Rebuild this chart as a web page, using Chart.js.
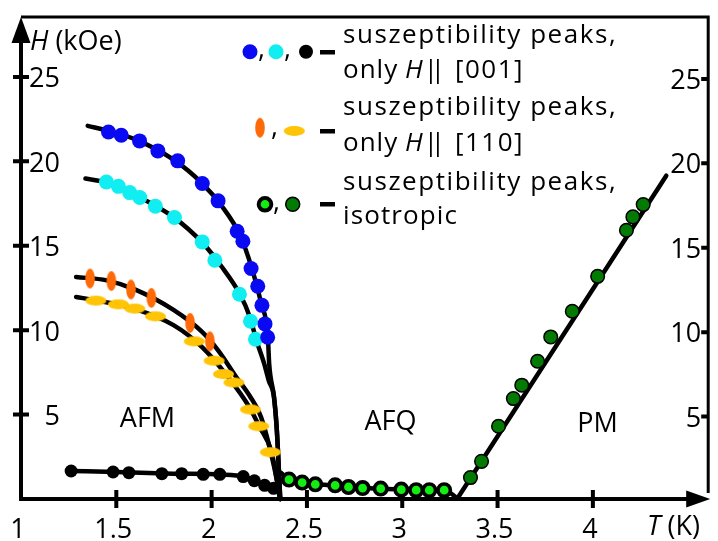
<!DOCTYPE html>
<html>
<head>
<meta charset="utf-8">
<script src="https://cdn.jsdelivr.net/npm/chart.js@4.4.1/dist/chart.umd.min.js"></script>
<style>
  html, body { margin: 0; padding: 0; background: #fff; }
  #wrap { width: 718px; height: 541px; }
</style>
</head>
<body>
<div id="wrap"><canvas id="c" width="718" height="541"></canvas></div>
<script>
// ---- measured susceptibility peaks (T in K, H in kOe) ----
// H || [001], upper branch (blue)
const blueT = [1.459, 1.526, 1.622, 1.718, 1.822, 1.951, 2.034, 2.134, 2.164, 2.207, 2.242, 2.264, 2.280, 2.294];
const blueH = [21.74, 21.55, 21.21, 20.62, 20.03, 18.69, 17.66, 15.86, 15.27, 13.65, 12.60, 11.47, 10.37, 9.58];
// H || [001], lower branch (cyan)
const cyanT = [1.448, 1.511, 1.570, 1.623, 1.705, 1.805, 1.951, 2.017, 2.146, 2.204, 2.230];
const cyanH = [18.78, 18.52, 18.15, 17.86, 17.34, 16.67, 15.23, 14.14, 12.13, 10.53, 9.46];
// H || [001], low-field (black)
const blackT = [1.263, 1.483, 1.566, 1.739, 1.843, 1.956, 2.043, 2.166, 2.224, 2.278, 2.325];
const blackH = [1.66, 1.60, 1.56, 1.50, 1.50, 1.46, 1.46, 1.33, 1.08, 0.81, 0.63];
// H || [110] (orange and yellow)
const orangeT = [1.362, 1.474, 1.577, 1.684, 1.887, 1.991];
const orangeH = [13.06, 12.91, 12.41, 11.91, 10.43, 9.34];
const yellowT = [1.393, 1.511, 1.597, 1.705, 1.909, 2.013, 2.062, 2.117, 2.204, 2.247, 2.308];
const yellowH = [11.75, 11.53, 11.28, 10.82, 9.34, 8.19, 7.40, 6.90, 5.30, 4.31, 2.77];
// isotropic (light green: AFQ boundary, dark green: PM boundary)
const afqT = [2.406, 2.475, 2.544, 2.648, 2.718, 2.792, 2.887, 2.995, 3.073, 3.142, 3.220];
const afqH = [1.15, 0.97, 0.87, 0.81, 0.71, 0.65, 0.62, 0.56, 0.52, 0.52, 0.52];
const pmT = [3.358, 3.416, 3.505, 3.583, 3.627, 3.710, 3.779, 3.892, 4.025, 4.176, 4.210, 4.264];
const pmH = [1.27, 2.23, 4.31, 5.95, 6.74, 8.16, 9.60, 11.12, 13.19, 15.92, 16.71, 17.44];

// ---- phase boundary guide lines ----
const blueLineT = [1.35, 1.46, 1.6, 1.8, 1.95, 2.05, 2.15, 2.21, 2.26, 2.295, 2.302, 2.328, 2.342, 2.36];
const blueLineH = [22.1, 21.8, 21.3, 20.1, 18.7, 17.4, 15.6, 13.7, 11.6, 9.6, 8.0, 6.0, 4.1, 0];
const cyanLineT = [1.338, 1.45, 1.6, 1.8, 1.95, 2.05, 2.15, 2.2, 2.235, 2.276, 2.30, 2.326, 2.342, 2.36];
const cyanLineH = [18.98, 18.75, 18.0, 16.7, 15.2, 13.8, 12.1, 10.8, 9.4, 8.0, 7.0, 6.1, 4.1, 0];
const orangeLineT = [1.289, 1.45, 1.6, 1.8, 1.95, 2.034, 2.129, 2.2, 2.259, 2.328, 2.36];
const orangeLineH = [13.15, 12.95, 12.4, 11.2, 9.9, 8.81, 7.23, 6.1, 4.86, 1.9, 0];
const yellowLineT = [1.289, 1.4, 1.6, 1.8, 1.95, 2.086, 2.2, 2.25, 2.315, 2.36];
const yellowLineH = [11.97, 11.75, 11.25, 10.3, 9.0, 7.23, 5.4, 4.3, 2.75, 0];
const blackLineT = [1.263, 1.5, 1.8, 2.05, 2.17, 2.23, 2.28, 2.345, 2.36];
const blackLineH = [1.66, 1.6, 1.5, 1.45, 1.32, 1.05, 0.8, 0.6, 0];
const afqLineT = [2.365, 2.406, 2.475, 2.55, 2.65, 2.8, 3.0, 3.15, 3.22, 3.29];
const afqLineH = [1.55, 1.15, 0.97, 0.87, 0.8, 0.65, 0.56, 0.52, 0.52, 0.05];
const pmLineT = [3.29, 4.385];
const pmLineH = [0.05, 19.15];

// ---- axes and annotation text ----
const xTicks = [1, 1.5, 2, 2.5, 3, 3.5, 4];
const xTickLabels = ['1', '1.5', '2', '2.5', '3', '3.5', '4'];
const yTicks = [5, 10, 15, 20, 25];
const yTickLabels = ['5', '10', '15', '20', '25'];
const phaseNames = ['AFM', 'AFQ', 'PM'];
const legendHead = 'suszeptibility peaks,';
const legendSub = [['only', 'H', '[001]'], ['only', 'H', '[110]'], ['isotropic']];

const FONT = '"Open Sans", "DejaVu Sans", sans-serif';
const C = {
  blue: '#0a0af2', cyan: '#10eef2', black: '#000000',
  orange: '#ff6a08', yellow: '#ffc405', lime: '#12ee12', green: '#037a03'
};

function pairs(ts, hs) { return ts.map((t, i) => ({ x: t, y: hs[i] })); }

function ellipseSprite(rx, ry, color) {
  const c = document.createElement('canvas');
  c.width = Math.ceil(rx * 2) + 2;
  c.height = Math.ceil(ry * 2) + 2;
  const g = c.getContext('2d');
  g.fillStyle = color;
  g.beginPath();
  g.ellipse(c.width / 2, c.height / 2, rx, ry, 0, 0, Math.PI * 2);
  g.fill();
  return c;
}
const orangeMark = ellipseSprite(4.8, 10, C.orange);
const yellowMark = ellipseSprite(10.5, 5, C.yellow);

function pointSet(data, opts) {
  return Object.assign({ data, showLine: false, order: 0, clip: false, borderWidth: 0 }, opts);
}
function lineSet(data) {
  return {
    data, showLine: true, pointRadius: 0, borderColor: '#000', borderWidth: 4.5,
    borderCapStyle: 'round', borderJoinStyle: 'round', cubicInterpolationMode: 'monotone',
    order: 1, clip: false
  };
}

function text(ctx, str, x, y, size, align, italic) {
  ctx.font = (italic ? 'italic ' : '') + size + 'px ' + FONT;
  ctx.textAlign = align || 'left';
  ctx.textBaseline = 'alphabetic';
  ctx.fillText(str, x, y);
  return ctx.measureText(str).width;
}
// left-aligned text with a little extra tracking between glyphs
function spaced(ctx, str, x, y, size, track) {
  ctx.font = size + 'px ' + FONT;
  ctx.textAlign = 'left';
  ctx.textBaseline = 'alphabetic';
  let xx = x;
  for (const ch of str) {
    ctx.fillText(ch, xx, y);
    xx += ctx.measureText(ch).width + track;
  }
  return xx - x;
}

const decorations = {
  id: 'decorations',
  beforeDatasetsDraw(chart) {
    const { ctx, chartArea: a, scales: { x, y } } = chart;
    ctx.save();
    ctx.strokeStyle = '#000';
    ctx.fillStyle = '#000';
    ctx.lineCap = 'butt';
    // top and right frame
    ctx.lineWidth = 3;
    ctx.beginPath();
    ctx.moveTo(a.left, a.top);
    ctx.lineTo(a.right, a.top);
    ctx.lineTo(a.right, a.bottom - 6);
    ctx.stroke();
    // left and bottom axes
    ctx.lineWidth = 4;
    ctx.beginPath();
    ctx.moveTo(a.left, a.bottom + 2);
    ctx.lineTo(a.left, a.top + 20);
    ctx.moveTo(a.left - 2, a.bottom);
    ctx.lineTo(a.right - 20, a.bottom);
    ctx.stroke();
    // arrow heads
    ctx.beginPath();
    ctx.moveTo(a.left, a.top);
    ctx.lineTo(a.left - 9.5, a.top + 26);
    ctx.lineTo(a.left + 9.5, a.top + 26);
    ctx.closePath();
    ctx.fill();
    ctx.beginPath();
    ctx.moveTo(a.right + 2, a.bottom);
    ctx.lineTo(a.right - 22, a.bottom - 8.5);
    ctx.lineTo(a.right - 22, a.bottom + 8.5);
    ctx.closePath();
    ctx.fill();
    // ticks
    ctx.lineWidth = 4;
    ctx.beginPath();
    xTicks.forEach((v, i) => {
      if (i === 0) return;
      const px = x.getPixelForValue(v);
      ctx.moveTo(px, a.bottom - 9);
      ctx.lineTo(px, a.bottom + 9);
    });
    yTicks.forEach(v => {
      const py = y.getPixelForValue(v);
      ctx.moveTo(a.left - 8, py);
      ctx.lineTo(a.left + 8, py);
      ctx.moveTo(a.right - 7, py + 2);
      ctx.lineTo(a.right, py + 2);
    });
    ctx.stroke();
    // tick labels
    xTicks.forEach((v, i) => {
      text(ctx, xTickLabels[i], x.getPixelForValue(v) - 3, a.bottom + 39, 27, 'center');
    });
    yTicks.forEach((v, i) => {
      const py = y.getPixelForValue(v);
      text(ctx, yTickLabels[i], a.left + 39, py + 10.5, 27, 'right');
      text(ctx, yTickLabels[i], a.right - 7, py + 12, 27, 'right');
    });
    // axis titles
    let w = text(ctx, 'H', a.left + 9, 50, 27, 'left', true);
    text(ctx, ' (kOe)', a.left + 9 + w, 50, 27, 'left');
    w = text(ctx, 'T', 647, 535, 27, 'left', true);
    text(ctx, ' (K)', 647 + w, 535, 27, 'left');
    // phase names
    text(ctx, phaseNames[0], 147.5, 427, 27, 'center');
    text(ctx, phaseNames[1], 390.5, 430, 27, 'center');
    text(ctx, phaseNames[2], 597.5, 432, 27, 'center');
    ctx.restore();
  },
  afterDraw(chart) {
    const { ctx } = chart;
    ctx.save();
    ctx.fillStyle = '#000';
    // legend text
    const baselines = [[43, 78], [115, 151], [190, 224]];
    legendSub.forEach((sub, i) => {
      spaced(ctx, legendHead, 343, baselines[i][0], 26, 1.55);
      const b = baselines[i][1];
      if (sub.length === 1) {
        spaced(ctx, sub[0], 343, b, 26, 1.1);
      } else {
        spaced(ctx, sub[0], 343, b, 26, 1.0);
        text(ctx, sub[1], 405, b, 26, 'left', true);
        text(ctx, '|', 431, b, 26, 'center');
        text(ctx, '|', 438, b, 26, 'center');
        spaced(ctx, sub[2], 455, b, 26, 1.5);
      }
    });
    // legend symbols
    const dot = (cx, cy, r, fill, stroke, lw) => {
      ctx.beginPath();
      ctx.arc(cx, cy, r, 0, Math.PI * 2);
      ctx.fillStyle = fill;
      ctx.fill();
      if (stroke) { ctx.lineWidth = lw; ctx.strokeStyle = stroke; ctx.stroke(); }
    };
    dot(250, 51.7, 7.5, C.blue);
    dot(276, 51.7, 7.5, C.cyan);
    dot(306, 51.7, 7, C.black);
    ctx.drawImage(orangeMark, 260 - orangeMark.width / 2, 127.7 - orangeMark.height / 2);
    ctx.drawImage(yellowMark, 294.3 - yellowMark.width / 2, 131 - yellowMark.height / 2);
    dot(265, 204.3, 6.3, C.lime, '#000', 4);
    dot(292.7, 204.3, 7, C.green, '#000', 1.5);
    ctx.fillStyle = '#000';
    [[258, 57], [284, 57], [271, 135], [273, 210]].forEach(p => {
      text(ctx, ',', p[0], p[1], 27, 'left');
    });
    ctx.fillRect(320, 50, 15, 4.5);
    ctx.fillRect(320, 129, 15, 4.5);
    ctx.fillRect(320, 202, 15, 4.5);
    ctx.restore();
  }
};

new Chart(document.getElementById('c'), {
  type: 'scatter',
  data: {
    datasets: [
      pointSet(pairs(afqT, afqH), { pointRadius: 6.2, backgroundColor: C.lime, borderColor: '#000', borderWidth: 3.6 }),
      pointSet(pairs(pmT, pmH), { pointRadius: 6.8, backgroundColor: C.green, borderColor: '#000', borderWidth: 1.5 }),
      pointSet(pairs(blueT, blueH), { pointRadius: 7.5, backgroundColor: C.blue }),
      pointSet(pairs(cyanT, cyanH), { pointRadius: 7.5, backgroundColor: C.cyan }),
      pointSet(pairs(orangeT, orangeH), { pointStyle: orangeMark }),
      pointSet(pairs(yellowT, yellowH), { pointStyle: yellowMark }),
      pointSet(pairs(blackT, blackH), { pointRadius: 6.5, backgroundColor: C.black }),
      lineSet(pairs(blueLineT, blueLineH)),
      lineSet(pairs(cyanLineT, cyanLineH)),
      lineSet(pairs(orangeLineT, orangeLineH)),
      lineSet(pairs(yellowLineT, yellowLineH)),
      lineSet(pairs(blackLineT, blackLineH)),
      lineSet(pairs(afqLineT, afqLineH)),
      lineSet(pairs(pmLineT, pmLineH))
    ]
  },
  options: {
    responsive: false,
    animation: false,
    devicePixelRatio: 1,
    layout: { padding: { left: 21, top: 17, right: 3, bottom: 42 } },
    plugins: { legend: { display: false }, tooltip: { enabled: false } },
    elements: { point: { hoverRadius: 0 } },
    scales: {
      x: { type: 'linear', min: 1, max: 4.605, display: false },
      y: { type: 'linear', min: 0, max: 28.55, display: false }
    }
  },
  plugins: [decorations]
});
</script>
</body>
</html>
